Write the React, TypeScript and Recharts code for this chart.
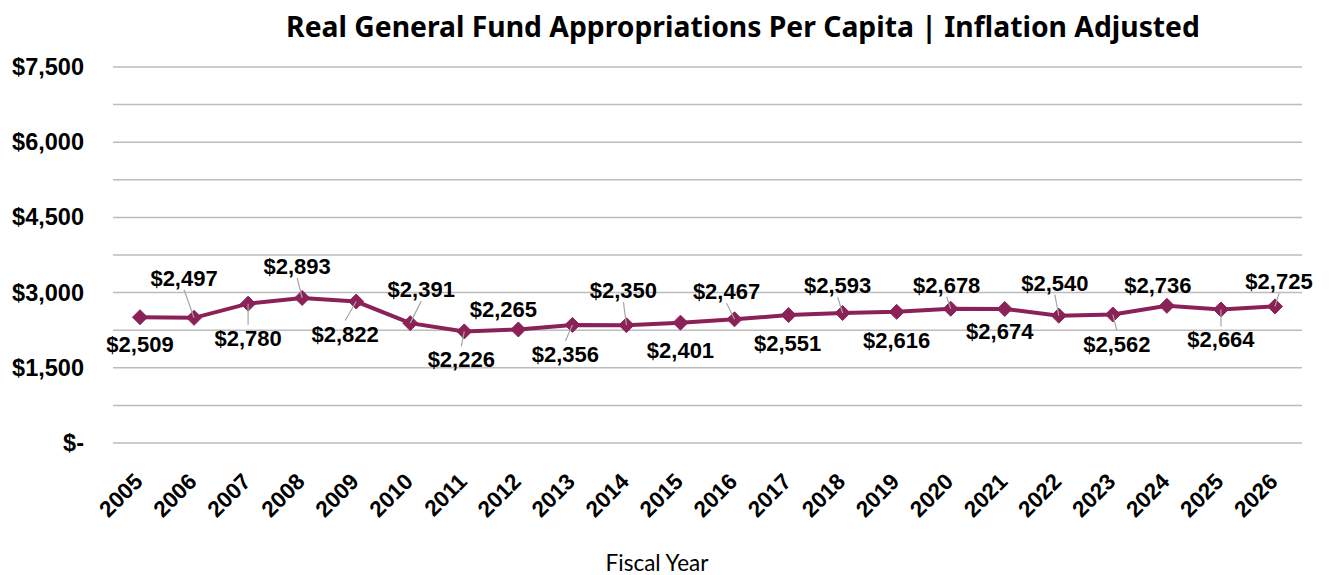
import React from 'react';
import { LineChart, Line, XAxis, YAxis, CartesianGrid, LabelList } from 'recharts';

const years = ['2005','2006','2007','2008','2009','2010','2011','2012','2013','2014','2015','2016','2017','2018','2019','2020','2021','2022','2023','2024','2025','2026'];
const perCapita = [2509,2497,2780,2893,2822,2391,2226,2265,2356,2350,2401,2467,2551,2593,2616,2678,2674,2540,2562,2736,2664,2725];
const yTicks = [0,750,1500,2250,3000,3750,4500,5250,6000,6750,7500];
const yLabelTicks = [0,1500,3000,4500,6000,7500];

// label placement relative to each point (dx, dy of label centre, leader shown)
const labelDx = [0,-10,0,-5,-11,11,-3,-15,-7,-3,0,-8,-1,-5,0,-4,-5,-4,4,-9,0,4];
const labelDy = [27,-40,34,-32,32,-34,28,-20,29,-35,27,-28,28,-28,28,-24,22,-33,29,-21,30,-25];
const leaders = [0,1,1,1,1,1,1,0,1,1,0,1,0,1,0,1,0,1,1,0,1,1];

const data = years.map((y, i) => ({ year: y, value: perCapita[i] }));

const COLOR = '#8B2257';
const fmt = (v: number) => v === 0 ? '$-' : '$' + v.toLocaleString('en-US');

const YTick = (props: any) => {
  const { y, payload } = props;
  if (!yLabelTicks.includes(payload.value)) return null;
  return (
    <text x={84} y={y} dy={8} textAnchor="end" fontFamily="'Liberation Sans', Arial, sans-serif" fontWeight={700} fontSize={23.5} fill="#000">
      {fmt(payload.value)}
    </text>
  );
};

const XTick = (props: any) => {
  const { x, y, payload } = props;
  return (
    <g transform={`translate(${x + 4},${y + 32})`}>
      <text transform="rotate(-45)" textAnchor="end" fontFamily="'Liberation Sans', Arial, sans-serif" fontWeight={700} fontSize={22.5} fill="#000">
        {payload.value}
      </text>
    </g>
  );
};

const PointLabel = (props: any) => {
  const { x, y, index, value } = props;
  const dx = labelDx[index];
  const dy = labelDy[index];
  const cx = x + dx;
  const cy = y + dy;
  const edgeY = dy > 0 ? cy - 13 : cy + 12;
  return (
    <g>
      {leaders[index] ? (
        <line x1={cx} y1={edgeY} x2={x} y2={y} stroke="#a6a6a6" strokeWidth={1.2} />
      ) : null}
      <text x={cx} y={cy} dy={8} textAnchor="middle" fontFamily="'Liberation Sans', Arial, sans-serif" fontWeight={700} fontSize={22} fill="#000">
        {fmt(value)}
      </text>
    </g>
  );
};

const Diamond = (props: any) => {
  const { cx, cy } = props;
  const r = 7.5;
  return <path d={`M${cx},${cy - r}L${cx + r},${cy}L${cx},${cy + r}L${cx - r},${cy}Z`} fill={COLOR} stroke={COLOR} strokeWidth={1} />;
};

export default function App() {
  return (
    <div style={{ position: 'absolute', left: 0, top: 0, width: 1329, height: 575, background: '#fff' }}>
      <div style={{ position: 'absolute', left: 0, width: 1486, top: 7, textAlign: 'center', fontFamily: "'Noto Sans', sans-serif", fontWeight: 700, fontSize: 28.3, color: '#000', whiteSpace: 'nowrap' }}>
        Real General Fund Appropriations Per Capita | Inflation Adjusted
      </div>
      <div style={{ position: 'absolute', left: 557, width: 200, top: 551, height: 23, lineHeight: '23px', textAlign: 'center', fontFamily: "Lato, sans-serif", fontSize: 22.5, color: '#000' }}>
        Fiscal Year
      </div>
      <LineChart width={1329} height={575} data={data} margin={{ top: 67, right: 27, bottom: 0, left: 0 }}>
        <CartesianGrid vertical={false} stroke="#bcbcbc" strokeWidth={1.5} />
        <YAxis domain={[0, 7500]} ticks={yTicks} width={113} axisLine={false} tickLine={false} tick={<YTick />} interval={0} />
        <XAxis dataKey="year" height={132} axisLine={false} tickLine={false} interval={0} tick={<XTick />} padding={{ left: 27, right: 27 }} />
        <Line dataKey="value" stroke="none" dot={false} activeDot={false} isAnimationActive={false}>
          <LabelList dataKey="value" content={<PointLabel />} />
        </Line>
        <Line dataKey="value" stroke={COLOR} strokeWidth={4} dot={<Diamond />} activeDot={false} isAnimationActive={false} />
      </LineChart>
    </div>
  );
}
